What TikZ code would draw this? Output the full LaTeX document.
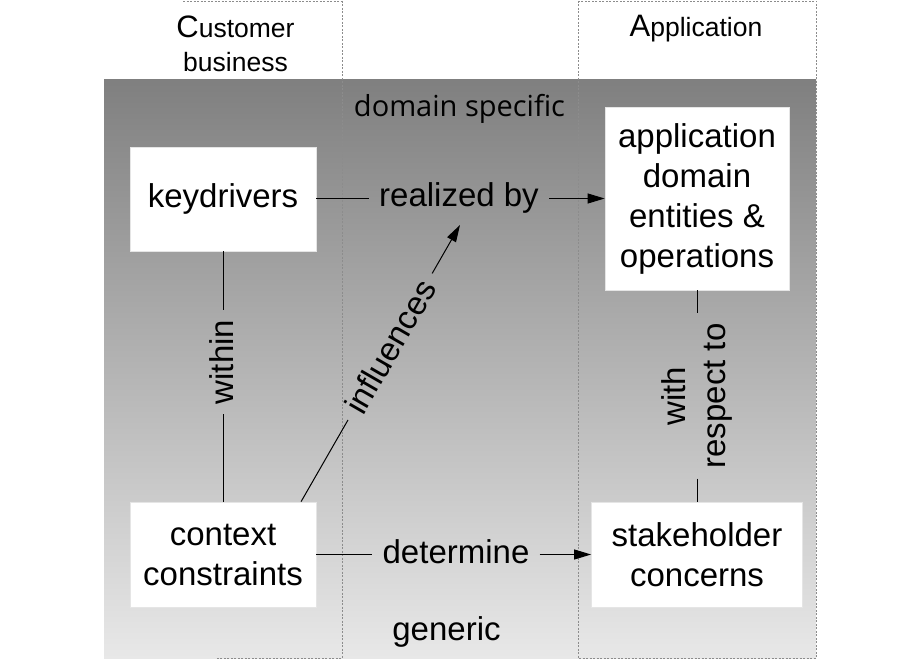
\documentclass[tikz,border=0pt]{standalone}
\usepackage{fontspec}
\setmainfont{Liberation Sans}
\newfontfamily\osans{Open Sans}
\usetikzlibrary{arrows.meta,calc}
\begin{document}
\begin{tikzpicture}[x=1pt,y=-1pt,
  box/.style={fill=white,draw=black!10,line width=0.8pt,align=center,inner sep=0pt,font=\fontsize{33}{40}\selectfont},
  lbl/.style={font=\fontsize{33}{40}\selectfont,inner sep=10pt,align=center},
  conn/.style={line width=1pt,black},
  arr/.style={conn,-{Triangle[length=17pt,width=10pt]}},
  col/.style={draw=black!45,line width=0.8pt,dash pattern=on 2pt off 1.5pt}]
\useasboundingbox (0,0) rectangle (920,660);
\fill[white] (0,0) rectangle (920,660);
% column frames and background
\draw[col] (183,1) -- (342,1);
\shade[top color=black!50, bottom color=black!9] (104,80) rectangle (816,658);
\draw[col] (342,1) -- (342,658) -- (215,658);
\draw[col] (578,1) rectangle (816,658);
% headers
\node[align=center,font=\fontsize{26.5}{34}\selectfont] (cb) at (235.5,44) {{\fontsize{31}{34}\selectfont C}ustomer\\business};
\node[anchor=base,font=\fontsize{26.5}{34}\selectfont] (ap) at (696,37) {{\fontsize{31}{34}\selectfont A}pplication};
\node[anchor=base,font=\osans\fontsize{29}{34}\selectfont] (ds) at (459.5,117) {domain specific};
\node[anchor=base,font=\fontsize{33}{40}\selectfont] (ge) at (446.5,640) {generic};
% boxes
\node[box,minimum width=186pt,minimum height=104pt] (kd) at (223,199) {keydrivers};
\node[box,minimum width=186pt,minimum height=105pt] (cc) at (223,554.5) {context\\constraints};
\node[box,minimum width=184pt,minimum height=183pt] (app) at (697,198.5) {application\\domain\\entities \&\\operations};
\node[box,minimum width=211pt,minimum height=105pt] (sh) at (697,554.5) {stakeholder\\concerns};
% realized by
\node[lbl,anchor=base] (rb) at (459,207) {realized by};
\draw[conn] (kd.east) -- (kd.east -| rb.west);
\draw[arr] (rb.east |- app.west) -- (app.west);
% determine
\node[lbl,anchor=base] (de) at (456,563) {determine};
\draw[conn] (cc.east) -- (cc.east -| de.west);
\draw[arr] (de.east |- sh.west) -- (sh.west);
% within
\node[lbl,rotate=90] (wi) at (222,362) {within};
\draw[conn] (kd.south) -- (kd.south |- wi.east);
\draw[conn] (cc.north |- wi.west) -- (cc.north);
% with respect to
\node[lbl,rotate=90] (wr) at (697,396) {with\\respect to};
\draw[conn] (app.south) -- (app.south |- wr.east);
\draw[conn] (sh.north |- wr.west) -- (sh.north);
% influences
\coordinate (infs) at ($(cc.north east)+(-15.3,0)$);
\coordinate (infe) at (460,225);
\node[lbl,rotate=60] (inf) at ($(infs)!0.56!(infe)$) {influences};
\draw[conn] (infs) -- (inf);
\draw[arr] (inf) -- (infe);
\end{tikzpicture}
\end{document}
